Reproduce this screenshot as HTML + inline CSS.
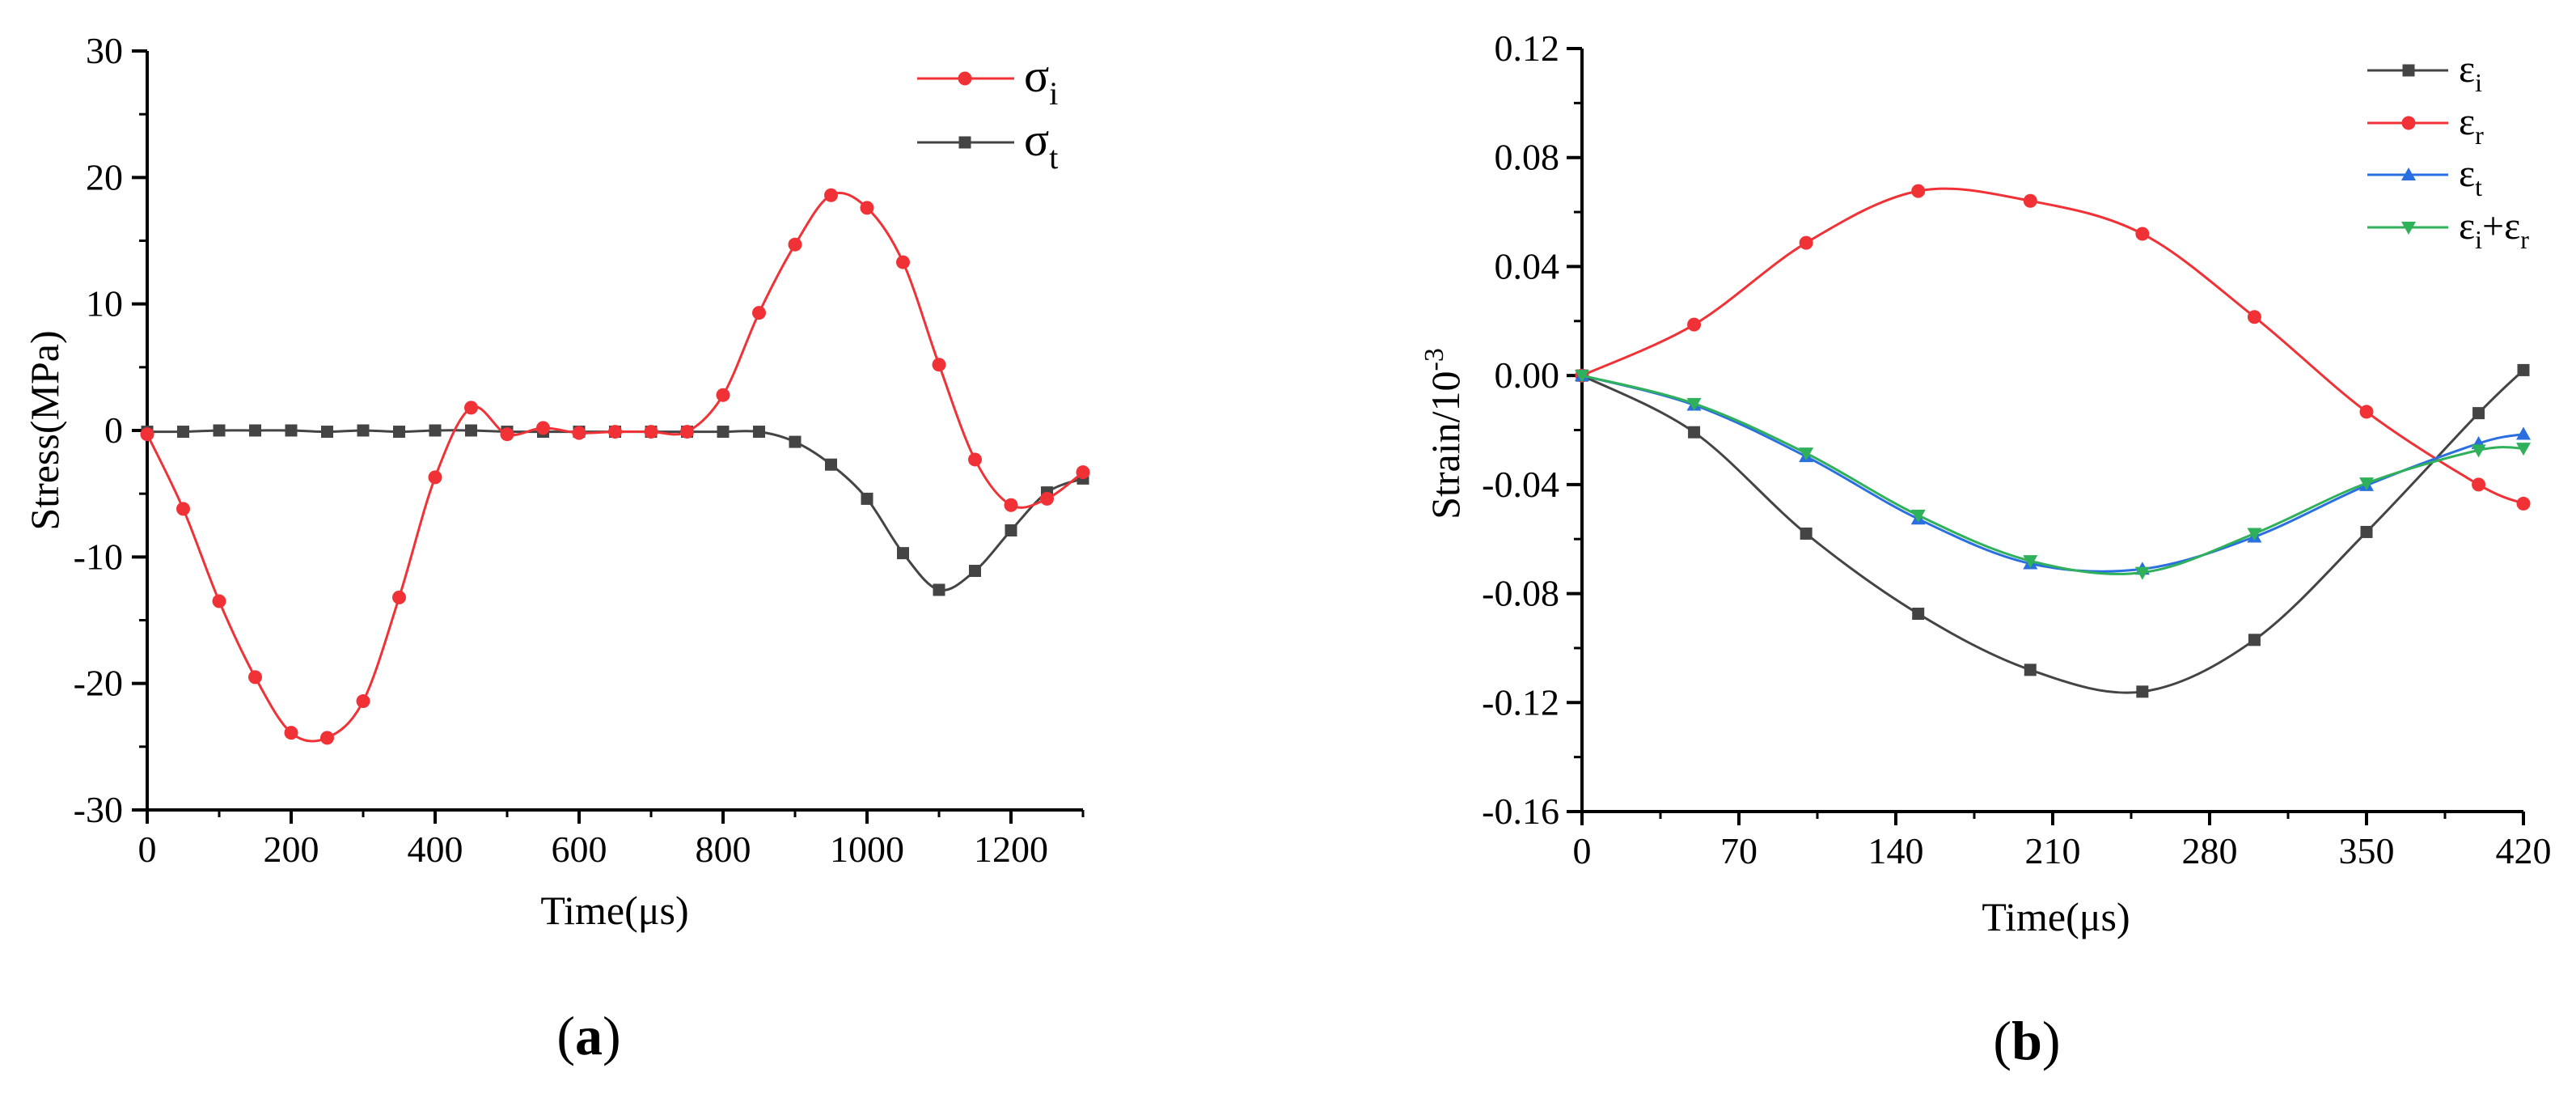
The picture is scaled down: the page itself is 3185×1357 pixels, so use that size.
<!DOCTYPE html>
<html><head><meta charset="utf-8">
<style>
html,body{margin:0;padding:0;background:#fff;}
svg{display:block;font-family:"Liberation Serif","DejaVu Serif",serif;}
svg text{font-family:"Liberation Serif","DejaVu Serif",serif;}
</style></head>
<body>
<svg id="fig" width="3185" height="1357" viewBox="0 0 3185 1357" xmlns="http://www.w3.org/2000/svg">
<rect width="3185" height="1357" fill="#fff"/>
<g id="chartA"></g>
<g id="chartB"></g>
<text x="728" y="1303" font-size="68" text-anchor="middle" font-family="Liberation Serif, serif">(<tspan font-weight="bold">a</tspan>)</text>
<text x="2506" y="1309" font-size="68" text-anchor="middle" font-family="Liberation Serif, serif">(<tspan font-weight="bold">b</tspan>)</text>
</svg>
<script>
// ---- Chart A data ----
const timeA = [0,50,100,150,200,250,300,350,400,450,500,550,600,650,700,750,800,850,900,950,1000,1050,1100,1150,1200,1250,1300];
const sigmaI = [-0.3,-6.2,-13.5,-19.5,-23.9,-24.3,-21.4,-13.2,-3.7,1.8,-0.3,0.2,-0.2,-0.1,-0.1,-0.1,2.8,9.3,14.7,18.6,17.6,13.3,5.2,-2.3,-5.9,-5.4,-3.3];
const sigmaT = [-0.1,-0.1,0,0,0,-0.1,0,-0.1,0,0,-0.1,-0.1,-0.1,-0.1,-0.1,-0.1,-0.1,-0.1,-0.9,-2.7,-5.4,-9.7,-12.6,-11.1,-7.9,-4.9,-3.8];
const xTicksA = [0,200,400,600,800,1000,1200];
const yTicksA = [-30,-20,-10,0,10,20,30];
// ---- Chart B data ----
const timeB = [0,50,100,150,200,250,300,350,400,420];
const epsI = [0,-0.0208,-0.058,-0.0874,-0.108,-0.116,-0.097,-0.0574,-0.0138,0.002];
const epsR = [0,0.0187,0.0487,0.0677,0.0641,0.052,0.0215,-0.0133,-0.040,-0.047];
const epsT = [0,-0.0108,-0.0297,-0.0526,-0.069,-0.071,-0.0592,-0.0403,-0.0249,-0.0215];
const epsIR = [0,-0.0103,-0.0285,-0.0513,-0.068,-0.0723,-0.058,-0.0395,-0.0274,-0.0267];
const xTicksB = [0,70,140,210,280,350,420];
const yTicksB = [-0.16,-0.12,-0.08,-0.04,0.00,0.04,0.08,0.12];
const yLabelsB = ["-0.16","-0.12","-0.08","-0.04","0.00","0.04","0.08","0.12"];

const NS="http://www.w3.org/2000/svg";
const FONT="Liberation Serif, DejaVu Serif, serif";
function mk(tag,attrs,parent){const e=document.createElementNS(NS,tag);for(const k in attrs)e.setAttribute(k,attrs[k]);if(tag==="text")e.setAttribute("font-family",FONT);parent.appendChild(e);return e;}

function spline(pts){
  let d="M"+pts[0][0].toFixed(1)+","+pts[0][1].toFixed(1);
  for(let i=0;i<pts.length-1;i++){
    const p0=pts[i-1]||pts[i],p1=pts[i],p2=pts[i+1],p3=pts[i+2]||pts[i+1];
    const c1=[p1[0]+(p2[0]-p0[0])/6,p1[1]+(p2[1]-p0[1])/6];
    const c2=[p2[0]-(p3[0]-p1[0])/6,p2[1]-(p3[1]-p1[1])/6];
    d+=" C"+c1[0].toFixed(1)+","+c1[1].toFixed(1)+" "+c2[0].toFixed(1)+","+c2[1].toFixed(1)+" "+p2[0].toFixed(1)+","+p2[1].toFixed(1);
  }
  return d;
}
function marker(g,shape,x,y,color){
  let e;
  if(shape==="circle"){e=mk("circle",{cx:x,cy:y,r:8.5,fill:color},g);}
  else if(shape==="square"){e=mk("rect",{x:x-7.5,y:y-7.5,width:15,height:15,fill:color},g);}
  else if(shape==="up"){e=mk("polygon",{points:`${x},${y-9} ${x-9},${y+7} ${x+9},${y+7}`,fill:color},g);}
  else {e=mk("polygon",{points:`${x},${y+9} ${x-9},${y-7} ${x+9},${y-7}`,fill:color},g);}
  
  
}
function series(g,xs,ys,sx,sy,color,shape,name){
  const sg=mk("g",{},g);
  
  
  const pts=xs.map((v,i)=>[sx(v),sy(ys[i])]);
  mk("path",{d:spline(pts),fill:"none",stroke:color,"stroke-width":3},sg);
  pts.forEach(p=>marker(sg,shape,p[0],p[1],color));
}

// ===== Chart A =====
(function(){
  const g=document.getElementById("chartA");
  const L=182,R=1339,T=63,B=1001;
  const sx=v=>L+(v-0)/(1300-0)*(R-L);
  const sy=v=>B-(v+30)/60*(B-T);
  mk("line",{x1:L,y1:T,x2:L,y2:B,stroke:"#000","stroke-width":4},g);
  mk("line",{x1:L-19,y1:B,x2:R,y2:B,stroke:"#000","stroke-width":4},g);
  yTicksA.forEach(v=>{
    mk("line",{x1:L-19,y1:sy(v),x2:L,y2:sy(v),stroke:"#000","stroke-width":4},g);
    const t=mk("text",{x:L-30,y:sy(v)+15,"font-size":46,"text-anchor":"end"},g);
    t.textContent=v;
    
    
    if(v<30) mk("line",{x1:L-10,y1:sy(v+5),x2:L,y2:sy(v+5),stroke:"#000","stroke-width":3},g);
  });
  xTicksA.forEach(v=>{
    mk("line",{x1:sx(v),y1:B,x2:sx(v),y2:B+17,stroke:"#000","stroke-width":4},g);
    const t=mk("text",{x:sx(v),y:B+64,"font-size":46,"text-anchor":"middle"},g);
    t.textContent=v;
    
    
    mk("line",{x1:sx(v+100),y1:B,x2:sx(v+100),y2:B+9,stroke:"#000","stroke-width":3},g);
  });
  const yt=mk("text",{x:0,y:0,"font-size":50,"text-anchor":"middle",transform:"translate(72,532) rotate(-90)"},g);
  yt.textContent="Stress(MPa)";
  
  
  const xt=mk("text",{x:760,y:1142,"font-size":50,"text-anchor":"middle"},g);
  xt.textContent="Time(μs)";
  
  
  series(g,timeA,sigmaT,sx,sy,"#444444","square","series-sigma-t");
  series(g,timeA,sigmaI,sx,sy,"#f03237","circle","series-sigma-i");
  const lg=mk("g",{},g);
  
  
  [["#f03237","circle","i",97],["#444444","square","t",176]].forEach(e=>{
    mk("line",{x1:1134,y1:e[3],x2:1254,y2:e[3],stroke:e[0],"stroke-width":3},lg);
    marker(lg,e[1],1193,e[3],e[0]);
    const t=mk("text",{x:1266,y:e[3]+16,"font-size":58},lg);
    t.innerHTML='σ<tspan font-size="40" dy="16">'+e[2]+'</tspan>';
    
    
  });
})();

// ===== Chart B =====
(function(){
  const g=document.getElementById("chartB");
  const L=1956,R=3120,T=60,B=1003;
  const sx=v=>L+v/420*(R-L);
  const sy=v=>B-(v+0.16)/0.28*(B-T);
  mk("line",{x1:L,y1:T,x2:L,y2:B,stroke:"#000","stroke-width":4},g);
  mk("line",{x1:L-19,y1:B,x2:R,y2:B,stroke:"#000","stroke-width":4},g);
  yTicksB.forEach((v,i)=>{
    mk("line",{x1:L-19,y1:sy(v),x2:L,y2:sy(v),stroke:"#000","stroke-width":4},g);
    const t=mk("text",{x:L-28,y:sy(v)+15,"font-size":46,"text-anchor":"end"},g);
    t.textContent=yLabelsB[i];
    
    
    if(i<yTicksB.length-1) mk("line",{x1:L-10,y1:sy(v+0.02),x2:L,y2:sy(v+0.02),stroke:"#000","stroke-width":3},g);
  });
  xTicksB.forEach((v,i)=>{
    mk("line",{x1:sx(v),y1:B,x2:sx(v),y2:B+17,stroke:"#000","stroke-width":4},g);
    const t=mk("text",{x:sx(v),y:B+64,"font-size":46,"text-anchor":"middle"},g);
    t.textContent=v;
    
    
    if(i<xTicksB.length-1) mk("line",{x1:sx(v+35),y1:B,x2:sx(v+35),y2:B+9,stroke:"#000","stroke-width":3},g);
  });
  const yt=mk("text",{x:0,y:0,"font-size":50,"text-anchor":"middle",transform:"translate(1804,536) rotate(-90)"},g);
  yt.innerHTML='Strain/10<tspan font-size="34" dy="-20">-3</tspan>';
  
  
  const xt=mk("text",{x:2542,y:1150,"font-size":50,"text-anchor":"middle"},g);
  xt.textContent="Time(μs)";
  
  
  series(g,timeB,epsI,sx,sy,"#444444","square","series-eps-i");
  series(g,timeB,epsR,sx,sy,"#f03237","circle","series-eps-r");
  series(g,timeB,epsT,sx,sy,"#2a6fe0","up","series-eps-t");
  series(g,timeB,epsIR,sx,sy,"#2fb05a","down","series-eps-i-plus-r");
  const lg=mk("g",{},g);
  
  
  [["#444444","square",'ε<tspan font-size="32" dy="12">i</tspan>',87],
   ["#f03237","circle",'ε<tspan font-size="32" dy="12">r</tspan>',152],
   ["#2a6fe0","up",'ε<tspan font-size="32" dy="12">t</tspan>',216],
   ["#2fb05a","down",'ε<tspan font-size="32" dy="12">i</tspan><tspan dy="-12">+ε</tspan><tspan font-size="32" dy="12">r</tspan>',281]].forEach(e=>{
    mk("line",{x1:2927,y1:e[3],x2:3027,y2:e[3],stroke:e[0],"stroke-width":3},lg);
    marker(lg,e[1],2978,e[3],e[0]);
    const t=mk("text",{x:3040,y:e[3]+14,"font-size":48},lg);
    t.innerHTML=e[2];
    
    
  });
})();
</script>
</body></html>
